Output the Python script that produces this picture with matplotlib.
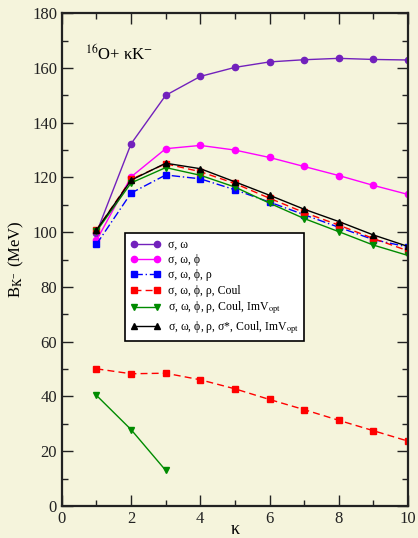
import matplotlib.pyplot as plt
from matplotlib.ticker import MultipleLocator

plt.rcParams['font.family'] = ['Liberation Serif', 'DejaVu Serif']
plt.rcParams['mathtext.fontset'] = 'stix'

kappa = [1, 2, 3, 4, 5, 6, 7, 8, 9, 10]

b_sw = [99.8, 132.3, 150.0, 156.9, 160.2, 162.2, 163.0, 163.5, 163.1, 162.9]
b_swf = [97.0, 120.2, 130.5, 131.7, 130.0, 127.3, 124.0, 120.7, 117.1, 113.8]
b_swfr = [95.6, 114.3, 120.9, 119.5, 115.5, 111.0, 106.4, 101.8, 97.3, 94.6]
b_coul = [100.8, 119.3, 125.0, 122.1, 117.8, 112.4, 107.2, 102.6, 97.7, 93.2]
b_coul_low = [50.1, 48.3, 48.5, 46.1, 42.8, 38.9, 35.2, 31.3, 27.5, 23.7]
b_imv = [100.3, 118.0, 123.6, 120.8, 116.5, 110.6, 105.0, 100.2, 95.3, 91.5]
kappa_imv_low = [1, 2, 3]
b_imv_low = [40.4, 27.9, 13.0]
b_all = [100.8, 119.0, 125.2, 123.2, 118.4, 113.5, 108.4, 103.9, 99.0, 94.8]

labels = ['σ, ω',
          'σ, ω, ϕ',
          'σ, ω, ϕ, ρ',
          'σ, ω, ϕ, ρ, Coul',
          'σ, ω, ϕ, ρ, Coul, ImV$_{\\rm opt}$',
          'σ, ω, ϕ, ρ, σ*, Coul, ImV$_{\\rm opt}$']

bg = '#f5f4dc'
fig = plt.figure(figsize=(4.18, 5.38), dpi=100, facecolor=bg)
ax = fig.add_axes([0.148, 0.0595, 0.828, 0.916], facecolor=bg)

ms = 4.5
ax.plot(kappa, b_sw, color='#7221bc', lw=1, marker='o', ms=ms, label=labels[0])
ax.plot(kappa, b_swf, color='#ff00ff', lw=1, marker='o', ms=ms, label=labels[1])
ax.plot(kappa, b_swfr, color='#0000ff', lw=1, ls=(0, (6, 2, 1, 2)), marker='s', ms=ms, label=labels[2])
ax.plot(kappa, b_coul, color='#ff0000', lw=1, ls=(0, (5, 3)), marker='s', ms=ms, label=labels[3])
ax.plot(kappa, b_coul_low, color='#ff0000', lw=1, ls=(0, (5, 3)), marker='s', ms=ms)
ax.plot(kappa, b_imv, color='#008b00', lw=1, marker='v', ms=ms + 0.5, label=labels[4])
ax.plot(kappa_imv_low, b_imv_low, color='#008b00', lw=1, marker='v', ms=ms + 0.5)
ax.plot(kappa, b_all, color='black', lw=1, marker='^', ms=ms + 0.5, label=labels[5])

ax.set_xlim(0, 10)
ax.set_ylim(0, 180)
ax.xaxis.set_major_locator(MultipleLocator(2))
ax.xaxis.set_minor_locator(MultipleLocator(1))
ax.yaxis.set_major_locator(MultipleLocator(20))
ax.yaxis.set_minor_locator(MultipleLocator(10))
ax.tick_params(which='both', direction='in', top=True, right=True, labelsize=12, colors='#222222')
ax.tick_params(which='major', length=8, width=1)
ax.tick_params(which='minor', length=4, width=1)
for sp in ax.spines.values():
    sp.set_linewidth(1.6)
    sp.set_color('#222222')

ax.set_xlabel('κ', fontsize=13, labelpad=-4)
ax.set_ylabel('B$_{\\rm K^{-}}$ (MeV)', fontsize=12, labelpad=4)
ax.text(0.67, 163, '$^{16}$O+ κK$^{-}$', fontsize=12)

leg = ax.legend(loc='upper left', bbox_to_anchor=(0.165, 0.565), fontsize=8.5,
                numpoints=2, handlelength=2.6, fancybox=False, framealpha=1,
                edgecolor='black', borderpad=0.45, labelspacing=0.28,
                handletextpad=0.6)
leg.get_frame().set_linewidth(1.2)

fig.savefig('out.png', dpi=100, facecolor=bg)
